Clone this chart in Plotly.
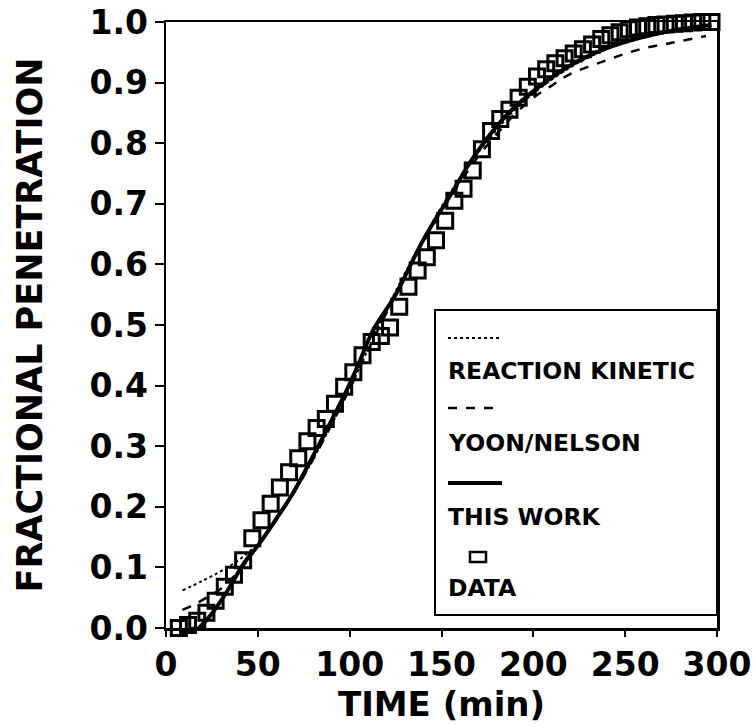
import plotly.graph_objects as go

# ---- data ----
data_t = [7, 12, 17, 22, 27, 32, 37, 42, 47, 52, 57, 62, 67, 72, 77, 82, 87, 92, 97, 102,
          107, 112, 117, 122, 127, 132, 137, 142, 147, 152, 157, 162, 167, 172, 177, 182,
          187, 192, 197, 202, 207, 212, 217, 222, 227, 232, 237, 242, 247, 252, 257, 262,
          267, 272, 277, 282, 287, 292, 297]
data_y = [0.0, 0.005, 0.012, 0.025, 0.045, 0.068, 0.088, 0.112, 0.148, 0.178, 0.205, 0.232,
          0.257, 0.28, 0.308, 0.33, 0.345, 0.37, 0.398, 0.422, 0.45, 0.472, 0.482, 0.496,
          0.53, 0.563, 0.59, 0.612, 0.64, 0.672, 0.705, 0.725, 0.755, 0.79, 0.82, 0.84,
          0.855, 0.875, 0.893, 0.91, 0.922, 0.932, 0.94, 0.948, 0.955, 0.963, 0.972, 0.978,
          0.983, 0.988, 0.991, 0.993, 0.995, 0.996, 0.997, 0.998, 0.999, 1.0, 1.0]

rk_t = [9, 20, 30, 40, 50, 60, 70, 80, 90, 100, 110, 120, 130, 140, 150, 160, 170, 180,
        190, 200, 220, 240, 260, 280, 297]
rk_y = [0.062, 0.078, 0.094, 0.113, 0.14, 0.178, 0.225, 0.278, 0.335, 0.395, 0.46, 0.525,
        0.585, 0.642, 0.695, 0.742, 0.785, 0.822, 0.855, 0.882, 0.925, 0.955, 0.974, 0.986,
        0.993]

yn_t = [9, 15, 22, 30, 40, 50, 60, 70, 80, 90, 100, 110, 120, 130, 140, 150, 160, 170, 180,
        190, 200, 210, 220, 240, 258, 276, 294]
yn_y = [0.03, 0.038, 0.05, 0.065, 0.095, 0.135, 0.178, 0.225, 0.278, 0.335, 0.395, 0.458,
        0.52, 0.58, 0.636, 0.688, 0.735, 0.778, 0.815, 0.848, 0.875, 0.895, 0.914, 0.937,
        0.955, 0.966, 0.977]

tw_t = [18, 24, 30, 36, 42, 51, 60, 69, 78, 87.5, 98, 105, 112.5, 125, 140, 156, 167, 185,
        203, 221, 240, 258, 276, 297]
tw_y = [0.0, 0.02, 0.045, 0.074, 0.105, 0.14, 0.18, 0.222, 0.272, 0.327, 0.39, 0.437, 0.49,
        0.55, 0.64, 0.72, 0.775, 0.845, 0.893, 0.93, 0.957, 0.974, 0.986, 0.995]

x_ticks = [0, 50, 100, 150, 200, 250, 300]
y_ticks = [0.0, 0.1, 0.2, 0.3, 0.4, 0.5, 0.6, 0.7, 0.8, 0.9, 1.0]
y_tick_text = ["0.0", "0.1", "0.2", "0.3", "0.4", "0.5", "0.6", "0.7", "0.8", "0.9", "1.0"]

legend_labels = ["REACTION KINETIC", "YOON/NELSON", "THIS WORK", "DATA"]

FONT = "DejaVu Sans"

fig = go.Figure()
fig.add_trace(go.Scatter(x=rk_t, y=rk_y, mode="lines", name=legend_labels[0],
                         line=dict(color="black", width=2, dash="dot", shape="spline")))
fig.add_trace(go.Scatter(x=yn_t, y=yn_y, mode="lines", name=legend_labels[1],
                         line=dict(color="black", width=2.5, dash="dash", shape="spline")))
fig.add_trace(go.Scatter(x=tw_t, y=tw_y, mode="lines", name=legend_labels[2],
                         line=dict(color="black", width=4, shape="spline")))
fig.add_trace(go.Scatter(x=data_t, y=data_y, mode="markers", name=legend_labels[3],
                         cliponaxis=False,
                         marker=dict(symbol="square-open", size=15, color="black",
                                     line=dict(width=3, color="black"))))

# the page body margin is removed below, so the figure starts at the window corner
W, H = 756, 726
# plot area in pixels: x 166..717, y 22..628
L, R, T, B = 166, 717, 22, 628


def px(xp):
    return (xp - L) / (R - L)


def py(yp):
    return (B - yp) / (B - T)


# custom legend box (key above each label, as in the reference)
shapes = [dict(type="rect", xref="paper", yref="paper", x0=px(435), x1=px(717),
               y0=py(615), y1=py(310), line=dict(color="black", width=2),
               fillcolor="white", layer="above")]
key_rows = [(338, "dot", 2), (408, "dash", 2.5), (483, "solid", 4)]
for yy, dash, w in key_rows:
    shapes.append(dict(type="line", xref="paper", yref="paper", x0=px(448), x1=px(502),
                       y0=py(yy), y1=py(yy), line=dict(color="black", width=w, dash=dash),
                       layer="above"))
shapes.append(dict(type="rect", xref="paper", yref="paper", x0=px(470), x1=px(486),
                   y0=py(562), y1=py(552), line=dict(color="black", width=2.5),
                   fillcolor="rgba(0,0,0,0)", layer="above"))

annotations = []
for yy, label in zip([371, 443, 517, 588], legend_labels):
    annotations.append(dict(xref="paper", yref="paper", x=px(446), y=py(yy), text=label,
                            showarrow=False, xanchor="left", yanchor="middle",
                            font=dict(family=FONT, size=23.5, color="black", weight="bold")))

fig.update_layout(
    width=W, height=H,
    margin=dict(l=L, r=W - R, t=T, b=H - B, autoexpand=False),
    paper_bgcolor="white", plot_bgcolor="white",
    showlegend=False,
    shapes=shapes,
    annotations=annotations,
    font=dict(family=FONT, color="black"),
)
fig.update_xaxes(
    range=[0, 300], tickvals=x_ticks, ticks="outside", ticklen=6, tickwidth=2,
    tickcolor="black", showline=True, linecolor="black", linewidth=2.5, mirror=True,
    showgrid=False, zeroline=False, automargin=False, ticklabeloverflow="allow",
    tickfont=dict(family=FONT, size=33, color="black", weight="bold"),
    title=dict(text="TIME (min)", standoff=4,
               font=dict(family=FONT, size=34, color="black", weight="bold")),
)
fig.update_yaxes(
    range=[0, 1.0], tickvals=y_ticks, ticktext=y_tick_text, ticks="outside", ticklen=9,
    tickwidth=2, tickcolor="black", showline=True, linecolor="black", linewidth=2.5,
    mirror=True, showgrid=False, zeroline=False, automargin=False, ticklabeloverflow="allow",
    tickfont=dict(family=FONT, size=33, color="black", weight="bold"),
    title=dict(text="FRACTIONAL PENETRATION", standoff=36,
               font=dict(family=FONT, size=35, color="black", weight="bold")),
)

fig.write_html("out.html",
               config={"displayModeBar": False, "staticPlot": True},
               post_script="document.body.style.margin='0';document.body.style.overflow='hidden';")
